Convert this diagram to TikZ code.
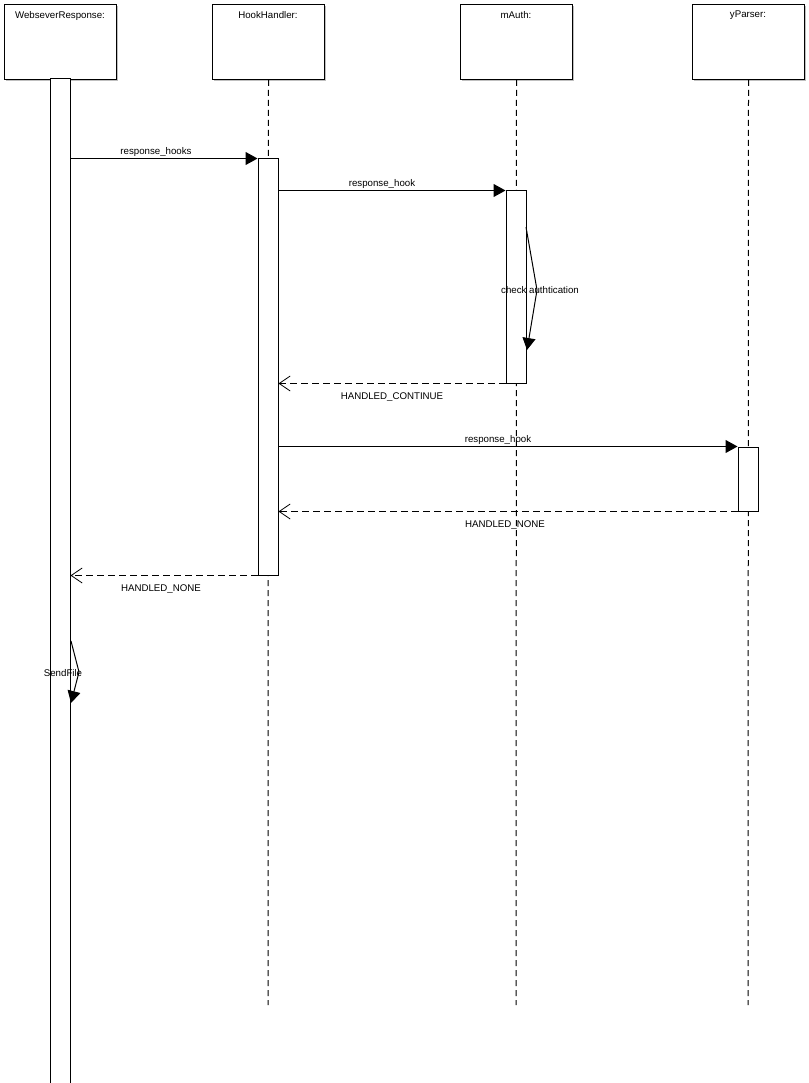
\documentclass[tikz,border=0pt]{standalone}
\usepackage{fontspec}
\setmainfont{Liberation Sans}
\usetikzlibrary{arrows.meta,shadows}
\begin{document}
\begin{tikzpicture}[x=1pt,y=-1pt,
  every node/.style={font=\fontsize{9.7}{11}\selectfont},
  head/.style={draw, line width=1pt, fill=white, minimum width=112pt, minimum height=75pt,
    inner sep=0pt, anchor=north west,
    drop shadow={shadow xshift=1.5pt, shadow yshift=-1.5pt, fill=black!25, opacity=1}},
  headlbl/.style={inner sep=0pt},
  lifeline/.style={line width=1pt, dash pattern=on 6pt off 4pt},
  bar/.style={draw, line width=1pt, fill=white, minimum width=20pt, inner sep=0pt},
  msg/.style={line width=1pt, -{Triangle[length=12pt,width=13pt]}},
  ret/.style={line width=1pt, dash pattern=on 7pt off 4pt, -{Straight Barb[length=11pt,width=15pt,line width=0.8pt]}},
  lbl/.style={inner sep=1pt}
]
\useasboundingbox (0,0) rectangle (808,1083);

% headers
\node[head] (wr) at (4,4) {};
\node[head] (hh) at (212,4) {};
\node[head] (ma) at (460,4) {};
\node[head] (yp) at (692,4) {};
\node[headlbl] at (60,15.5) {WebseverResponse:};
\node[headlbl] at (268,15.5) {HookHandler:};
\node[headlbl] at (516,15.5) {mAuth:};
\node[headlbl] at (748,15.5) {yParser:};

% lifeline ends
\coordinate (hhend) at (268,1005);
\coordinate (maend) at (516,1005);
\coordinate (ypend) at (748,1005);

\draw[lifeline] (hh.south) -- (hhend);
\draw[lifeline] (ma.south) -- (maend);
\draw[lifeline] (yp.south) -- (ypend);

% activation bars
\node[bar, minimum height=1011pt] (wrbar) at (60,584.5) {};
\node[bar, minimum height=416pt] (hhbar) at (268,367) {};
\node[bar, minimum height=192pt] (mabar) at (516,287) {};
\node[bar, minimum height=64pt] (ypbar) at (748,479) {};

% messages
\draw[msg] (wrbar.east |- hhbar.north) -- node[above, lbl, xshift=-8pt]{response\_hooks} (hhbar.north west);
\draw[msg] (hhbar.east |- mabar.north) -- node[above, lbl, xshift=-10pt]{response\_hook} (mabar.north west);

% self message on mAuth
\coordinate (ca1) at (526,227);
\coordinate (ca2) at (537,290);
\coordinate (ca3) at (527,350);
\draw[msg] (ca1) -- (ca2) -- (ca3);
\node[inner sep=0pt] (calbl) at (540,290) {check authtication};

\draw[ret] (mabar.south west) -- node[below=7.5pt, lbl]{HANDLED\_CONTINUE} (hhbar.east |- mabar.south);

\draw[msg] (hhbar.east |- ypbar.north) -- node[above, lbl, xshift=-10pt]{response\_hook} (ypbar.north west);
\draw[ret] (ypbar.south west) -- node[below=7.5pt, lbl, xshift=-3pt]{HANDLED\_NONE} (hhbar.east |- ypbar.south);

\draw[ret] (hhbar.south west) -- node[below=7.5pt, lbl, xshift=-3pt]{HANDLED\_NONE} (wrbar.east |- hhbar.south);

% self message SendFile
\coordinate (sf1) at (71,641);
\coordinate (sf2) at (79,672);
\coordinate (sf3) at (71,703);
\draw[msg] (sf1) -- (sf2) -- (sf3);
\node[inner sep=0pt] (sflbl) at (63,673) {SendFile};
\end{tikzpicture}
\end{document}
